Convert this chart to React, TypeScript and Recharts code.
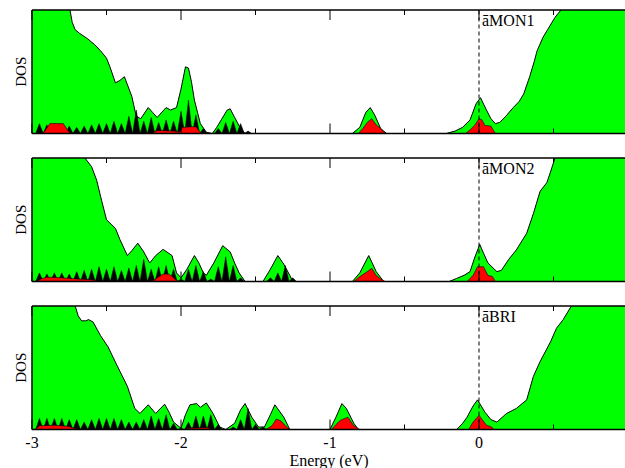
import { Area, ComposedChart, ReferenceLine, XAxis, YAxis } from 'recharts';

type Pt = [number, number];

// energy axis (eV)
const energyTicks = [-3, -2.5, -2, -1.5, -1, -0.5, 0, 0.5, 1];
const energyTickLabels = ['-3', '', '-2', '', '-1', '', '0', '', ''];
const panelLabels = ['āMON1', 'āMON2', 'āBRI'];

// total DOS (green), values > 1 run off the top of the panel
const green1: Pt[] = [
  [-3, 1.2], [-2.8, 1.2], [-2.745, 1.0], [-2.73, 0.9], [-2.71, 0.84], [-2.68, 0.81], [-2.63, 0.77],
  [-2.58, 0.72], [-2.54, 0.67], [-2.5, 0.61], [-2.477, 0.54], [-2.44, 0.41], [-2.41, 0.43], [-2.38, 0.46],
  [-2.33, 0.3], [-2.31, 0.19], [-2.3, 0.14], [-2.27, 0.12], [-2.22, 0.21], [-2.19, 0.17], [-2.16, 0.13],
  [-2.1, 0.21], [-2.07, 0.19], [-2.03, 0.21], [-2.0, 0.36], [-1.97, 0.54], [-1.95, 0.53], [-1.93, 0.42],
  [-1.91, 0.27], [-1.87, 0.08], [-1.83, 0.01], [-1.79, 0], [-1.76, 0.05], [-1.73, 0.11], [-1.69, 0.19],
  [-1.67, 0.2], [-1.64, 0.13], [-1.6, 0.04], [-1.57, 0], [-0.85, 0], [-0.8, 0.05], [-0.76, 0.17],
  [-0.73, 0.21], [-0.7, 0.15], [-0.66, 0.04], [-0.62, 0], [-0.22, 0], [-0.16, 0.02], [-0.11, 0.05],
  [-0.06, 0.11], [-0.02, 0.24], [0.01, 0.29], [0.05, 0.19], [0.08, 0.12], [0.11, 0.08], [0.14, 0.09],
  [0.18, 0.14], [0.23, 0.21], [0.27, 0.26], [0.3, 0.32], [0.34, 0.46], [0.37, 0.58], [0.39, 0.67],
  [0.43, 0.78], [0.46, 0.84], [0.51, 0.94], [0.55, 1.0], [0.6, 1.2], [1, 1.3],
];
const green2: Pt[] = [
  [-3, 1.2], [-2.7, 1.2], [-2.645, 1.0], [-2.6, 0.93], [-2.566, 0.82], [-2.54, 0.69], [-2.5, 0.5],
  [-2.44, 0.43], [-2.41, 0.34], [-2.36, 0.21], [-2.33, 0.25], [-2.29, 0.31], [-2.25, 0.24], [-2.21, 0.15],
  [-2.17, 0.21], [-2.12, 0.26], [-2.06, 0.21], [-2.03, 0.07], [-2.0, 0.03], [-1.96, 0.1], [-1.91, 0.21],
  [-1.88, 0.15], [-1.85, 0.07], [-1.83, 0.05], [-1.78, 0.15], [-1.72, 0.29], [-1.67, 0.24], [-1.64, 0.15],
  [-1.61, 0.07], [-1.57, 0], [-1.45, 0], [-1.4, 0.1], [-1.35, 0.21], [-1.31, 0.14], [-1.27, 0.05],
  [-1.25, 0], [-0.85, 0], [-0.8, 0.07], [-0.74, 0.21], [-0.69, 0.08], [-0.64, 0], [-0.2, 0],
  [-0.15, 0.025], [-0.1, 0.05], [-0.06, 0.08], [-0.03, 0.19], [0.005, 0.3], [0.03, 0.23], [0.06, 0.15],
  [0.12, 0.08], [0.15, 0.09], [0.2, 0.18], [0.25, 0.255], [0.32, 0.39], [0.365, 0.55], [0.41, 0.73],
  [0.455, 0.8], [0.478, 0.88], [0.51, 1.0], [0.56, 1.2], [1, 1.3],
];
const green3: Pt[] = [
  [-3, 1.2], [-2.75, 1.2], [-2.71, 1.0], [-2.69, 0.92], [-2.667, 0.88], [-2.64, 0.88], [-2.62, 0.89],
  [-2.59, 0.87], [-2.54, 0.76], [-2.49, 0.67], [-2.43, 0.52], [-2.36, 0.35], [-2.31, 0.17], [-2.275, 0.13],
  [-2.22, 0.2], [-2.17, 0.13], [-2.11, 0.205], [-2.08, 0.14], [-2.05, 0.06], [-2.0, 0.01], [-1.97, 0.12],
  [-1.94, 0.2], [-1.895, 0.21], [-1.87, 0.18], [-1.83, 0.215], [-1.785, 0.13], [-1.74, 0.02], [-1.7, 0],
  [-1.64, 0.05], [-1.6, 0.16], [-1.57, 0.21], [-1.525, 0.1], [-1.48, 0.02], [-1.44, 0.02], [-1.4, 0.12],
  [-1.37, 0.2], [-1.31, 0.1], [-1.27, 0], [-1.0, 0], [-0.96, 0.1], [-0.92, 0.21], [-0.89, 0.17],
  [-0.84, 0.05], [-0.81, 0], [-0.15, 0], [-0.11, 0.05], [-0.08, 0.1], [-0.04, 0.19], [-0.01, 0.24],
  [0.04, 0.14], [0.08, 0.08], [0.12, 0.06], [0.185, 0.13], [0.25, 0.17], [0.32, 0.24], [0.365, 0.43],
  [0.41, 0.55], [0.48, 0.71], [0.52, 0.82], [0.565, 0.89], [0.62, 1.0], [0.66, 1.2], [1, 1.3],
];

// projected DOS (black spikes), peak heights every 0.05 eV from -2.95, troughs on the baseline
const spikeStart = -2.95;
const spikeStep = 0.05;
const black1 = [
  0.08, 0.07, 0.06, 0.06, 0.06, 0.05, 0.06, 0.07, 0.08, 0.08, 0.1, 0.08, 0.14, 0.19, 0.1, 0.13, 0.09,
  0.11, 0.1, 0.18, 0.27, 0.15, 0.04, 0, 0.04, 0.09, 0.1, 0.08, 0.02,
];
const black2 = [
  0.07, 0.06, 0.07, 0.07, 0.06, 0.08, 0.09, 0.1, 0.12, 0.1, 0.12, 0.09, 0.11, 0.13, 0.18, 0.1, 0.12,
  0.13, 0.1, 0.02, 0.1, 0.13, 0.08, 0.02, 0.12, 0.2, 0.13, 0.03, 0, 0, 0, 0.03, 0.07, 0.13, 0.03,
];
const black3 = [
  0.09, 0.09, 0.09, 0.09, 0.08, 0.08, 0.06, 0.08, 0.09, 0.09, 0.09, 0.08, 0.06, 0.06, 0.08, 0.11, 0.09,
  0.12, 0.05, 0.01, 0.06, 0.11, 0.11, 0.12, 0.04, 0, 0.02, 0.08, 0.17, 0.04, 0.02,
];

// adsorbate DOS (red)
const red1: Pt[] = [
  [-2.95, 0], [-2.92, 0.01], [-2.88, 0.08], [-2.79, 0.08], [-2.75, 0.01], [-2.72, 0], [-2.2, 0],
  [-2.16, 0.025], [-2.05, 0.02], [-2.01, 0.01], [-1.99, 0.05], [-1.9, 0.055], [-1.87, 0.01], [-1.85, 0],
  [-0.81, 0], [-0.78, 0.04], [-0.75, 0.09], [-0.72, 0.12], [-0.69, 0.07], [-0.66, 0.04], [-0.63, 0],
  [-0.09, 0], [-0.06, 0.03], [-0.03, 0.065], [0, 0.12], [0.02, 0.11], [0.04, 0.065], [0.08, 0.06], [0.11, 0],
];
const red2: Pt[] = [
  [-2.97, 0], [-2.94, 0.02], [-2.9, 0.035], [-2.8, 0.03], [-2.7, 0.02], [-2.6, 0.015], [-2.55, 0],
  [-2.19, 0], [-2.16, 0.03], [-2.12, 0.06], [-2.08, 0.06], [-2.05, 0.03], [-2.02, 0], [-0.84, 0],
  [-0.8, 0.04], [-0.75, 0.08], [-0.72, 0.107], [-0.69, 0.05], [-0.66, 0.02], [-0.63, 0], [-0.08, 0],
  [-0.04, 0.05], [-0.01, 0.12], [0.03, 0.12], [0.06, 0.05], [0.09, 0.04], [0.11, 0],
];
const red3: Pt[] = [
  [-2.98, 0], [-2.95, 0.03], [-2.85, 0.035], [-2.75, 0.025], [-2.7, 0], [-1.98, 0], [-1.95, 0.01],
  [-1.82, 0.015], [-1.79, 0], [-1.43, 0], [-1.39, 0.03], [-1.36, 0.085], [-1.33, 0.07], [-1.29, 0.02],
  [-1.27, 0], [-0.99, 0], [-0.96, 0.04], [-0.93, 0.075], [-0.88, 0.1], [-0.84, 0.03], [-0.8, 0],
  [-0.07, 0], [-0.04, 0.06], [0, 0.115], [0.05, 0.035], [0.085, 0.02], [0.1, 0],
];

const FONT = '"Liberation Serif", "Times New Roman", serif';
const PLOT_H = 123.5;
const TOP = 10;
const LEFT = 32;
const RIGHT = 12;
const CHART_W = 640;

function spikePoints(heights: number[]): Pt[] {
  const pts: Pt[] = [];
  heights.forEach((h, i) => {
    const e = spikeStart + i * spikeStep;
    pts.push([e - spikeStep / 2, 0], [e, h]);
  });
  pts.push([spikeStart + (heights.length - 0.5) * spikeStep, 0]);
  return pts;
}

function buildRows(green: Pt[], black: Pt[], red: Pt[]) {
  const map = new Map<string, Record<string, number>>();
  const put = (pts: Pt[], key: string) =>
    pts.forEach(([e, v]) => {
      const k = e.toFixed(4);
      const row = map.get(k) ?? { e: Number(k) };
      row[key] = v;
      map.set(k, row);
    });
  put(green, 'green');
  put(black, 'black');
  put(red, 'red');
  return [...map.values()].sort((a, b) => a.e - b.e);
}

const isMinor = (v: number) => Math.abs(v - Math.round(v)) > 1e-6;

function TopTick(props: any) {
  const { x, y, payload } = props;
  const len = isMinor(payload.value) ? 5 : 10;
  return <line x1={x} x2={x} y1={y} y2={y + len} stroke="#000" strokeWidth={1} />;
}

function makeBottomTick(withLabels: boolean) {
  return function BottomTick(props: any) {
    const { x, y, payload, index } = props;
    const len = isMinor(payload.value) ? 5 : 10;
    return (
      <g>
        <line x1={x} x2={x} y1={y} y2={y - len} stroke="#000" strokeWidth={1} />
        {withLabels && energyTickLabels[index] ? (
          <text x={x} y={y + 18.5} textAnchor="middle" fontFamily={FONT} fontSize={16} fill="#000">
            {energyTickLabels[index]}
          </text>
        ) : null}
      </g>
    );
  };
}

interface PanelProps {
  green: Pt[];
  black: number[];
  red: Pt[];
  label: string;
  last?: boolean;
}

function Panel({ green, black, red, label, last }: PanelProps) {
  const rows = buildRows(green, spikePoints(black), red);
  const bottom = last ? 38.5 : 10;
  const height = TOP + PLOT_H + bottom;
  const layer: React.CSSProperties = { position: 'absolute', left: 0, top: 0 };
  return (
    <div style={{ position: 'relative', width: CHART_W, height }}>
      {/* curves */}
      <div style={layer}>
        <ComposedChart width={CHART_W} height={height} data={rows} margin={{ top: TOP, right: RIGHT, bottom, left: LEFT }}>
          <XAxis hide type="number" dataKey="e" domain={[-3, 1]} allowDataOverflow />
          <YAxis hide type="number" domain={[0, 1]} allowDataOverflow />
          <Area
            type="linear"
            dataKey="green"
            baseValue={0}
            connectNulls
            fill="#00ff00"
            fillOpacity={1}
            stroke="#000"
            strokeWidth={1}
            dot={false}
            activeDot={false}
            isAnimationActive={false}
          />
          <Area
            type="linear"
            dataKey="black"
            baseValue={0}
            connectNulls
            fill="#000"
            fillOpacity={1}
            stroke="#000"
            strokeWidth={0.5}
            dot={false}
            activeDot={false}
            isAnimationActive={false}
          />
          <Area
            type="linear"
            dataKey="red"
            baseValue={0}
            connectNulls
            fill="#ff0000"
            fillOpacity={1}
            stroke="#000"
            strokeWidth={0.6}
            dot={false}
            activeDot={false}
            isAnimationActive={false}
          />
        </ComposedChart>
      </div>
      {/* frame, ticks, labels and Fermi level drawn over the curves */}
      <div style={layer}>
        <ComposedChart
          width={CHART_W}
          height={height}
          data={rows}
          margin={{ top: TOP - 1, right: RIGHT, bottom: bottom - 1, left: 0 }}
        >
          <XAxis
            xAxisId="t"
            orientation="top"
            type="number"
            dataKey="e"
            domain={[-3, 1]}
            allowDataOverflow
            ticks={energyTicks}
            interval={0}
            height={1}
            tickSize={0}
            tickMargin={0}
            tickLine={false}
            tick={TopTick}
            axisLine={{ stroke: '#000', strokeWidth: 1.5 }}
          />
          <XAxis
            xAxisId="b"
            type="number"
            dataKey="e"
            domain={[-3, 1]}
            allowDataOverflow
            ticks={energyTicks}
            interval={0}
            height={1}
            tickSize={0}
            tickMargin={0}
            tickLine={false}
            tick={makeBottomTick(!!last)}
            axisLine={{ stroke: '#000', strokeWidth: 1.5 }}
            label={
              last
                ? {
                    content: () => (
                      <text x={329} y={TOP + PLOT_H + 36} textAnchor="middle" fontFamily={FONT} fontSize={16} fill="#000">
                        Energy (eV)
                      </text>
                    ),
                  }
                : undefined
            }
          />
          <YAxis
            type="number"
            domain={[0, 1]}
            allowDataOverflow
            width={LEFT}
            tick={false}
            tickLine={false}
            axisLine={{ stroke: '#000', strokeWidth: 1.5 }}
            label={{
              content: () => (
                <text
                  x={26}
                  y={TOP + PLOT_H / 2}
                  transform={`rotate(-90 26 ${TOP + PLOT_H / 2})`}
                  textAnchor="middle"
                  fontFamily={FONT}
                  fontSize={15}
                  fill="#000"
                >
                  DOS
                </text>
              ),
            }}
          />
          <ReferenceLine
            xAxisId="b"
            x={0}
            stroke="#000"
            strokeWidth={1}
            strokeDasharray="4 3"
            label={{
              content: () => (
                <text x={482} y={TOP + 16} fontFamily={FONT} fontSize={16} fill="#000">
                  {label}
                </text>
              ),
            }}
          />
        </ComposedChart>
      </div>
    </div>
  );
}

export default function App() {
  return (
    <div
      style={{
        position: 'fixed',
        left: 0,
        top: 0,
        width: 625,
        height: 468,
        overflow: 'hidden',
        background: '#fff',
      }}
    >
      <div style={{ position: 'absolute', left: 0, top: 0 }}>
        <Panel green={green1} black={black1} red={red1} label={panelLabels[0]} />
      </div>
      <div style={{ position: 'absolute', left: 0, top: 148 }}>
        <Panel green={green2} black={black2} red={red2} label={panelLabels[1]} />
      </div>
      <div style={{ position: 'absolute', left: 0, top: 296 }}>
        <Panel green={green3} black={black3} red={red3} label={panelLabels[2]} last />
      </div>
    </div>
  );
}
